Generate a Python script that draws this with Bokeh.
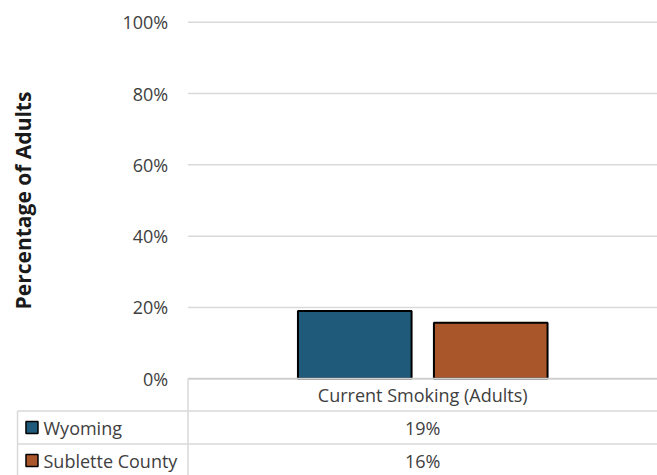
import numpy as np
from bokeh.plotting import figure
from bokeh.models import Range1d, ColumnDataSource
from bokeh.transform import dodge
from bokeh.core.properties import value
from bokeh.embed import file_html
from bokeh.resources import INLINE

# ---- data ----
categories = ["Current Smoking (Adults)"]
series_names = ["Wyoming", "Sublette County"]
wyoming = [19.0]
sublette = [15.7]
y_ticks = [0, 20, 40, 60, 80, 100]
y_title = "Percentage of Adults"

# ---- style / layout constants ----
colors = ["#1f5a7a", "#a8562a"]
FONT = "Open Sans"
TXT = "#404040"
GRID = "#d9d9d9"
HEADER_H = 9.03      # header row height (y units)
ROW_H = 9.254        # table row height (y units)
TABLE_LEFT = -0.3631  # left edge of table (x units, plot area = 0..1)

ncat = len(categories)
cat_x = list(np.arange(ncat) + 0.5)

p = figure(width=657, height=475,
           x_range=Range1d(-0.39936, ncat * 1.0),
           y_range=Range1d(-27.117, 106.085),
           x_axis_location=None, y_axis_location=None,
           output_backend="svg", toolbar_location=None,
           min_border_left=0, min_border_right=0,
           min_border_top=0, min_border_bottom=0,
           outline_line_color=None)
p.grid.visible = False

# gridlines
grid_y = [t for t in y_ticks if t != 0]
p.segment(x0=[0] * len(grid_y), y0=grid_y, x1=[ncat] * len(grid_y), y1=grid_y,
          line_color=GRID, line_width=1.5)

# bars
src = ColumnDataSource(dict(x=cat_x, wy=wyoming, su=sublette, cat=categories))
p.vbar(x=dodge("x", -0.1448, range=p.x_range), top="wy", width=0.242, source=src,
       fill_color=colors[0], line_color="black", line_width=2)
p.vbar(x=dodge("x", 0.1448, range=p.x_range), top="su", width=0.242, source=src,
       fill_color=colors[1], line_color="black", line_width=2)

# baseline (top of header row)
p.segment(x0=[0], y0=[0], x1=[ncat], y1=[0], line_color="#cfcfcf", line_width=2)

# y tick labels
tsrc = ColumnDataSource(dict(y=y_ticks, lab=[f"{t}%" for t in y_ticks]))
p.text(x=-0.0422, y="y", text="lab", source=tsrc, text_align="right", text_baseline="middle",
       text_font=value(FONT), text_font_size="18px", text_color=TXT)

# y title
p.text(x=[-0.3504], y=[50], text=[y_title], angle=np.pi / 2,
       text_align="center", text_baseline="middle",
       text_font=value(FONT), text_font_size="21px", text_font_style="bold",
       text_color="#1a1a1a")

# ---- data table ----
nrows = len(series_names)
row_lines = [-HEADER_H - i * ROW_H for i in range(nrows + 1)]
p.segment(x0=[TABLE_LEFT] * len(row_lines), y0=row_lines,
          x1=[ncat] * len(row_lines), y1=row_lines,
          line_color=GRID, line_width=1.5)
bottom = -HEADER_H - nrows * ROW_H
p.segment(x0=[0, TABLE_LEFT], y0=[0, -HEADER_H], x1=[0, TABLE_LEFT], y1=[bottom, bottom],
          line_color=GRID, line_width=1.5)

# header: category names
p.text(x="x", y=-HEADER_H / 2, text="cat", source=src, text_align="center",
       text_baseline="middle", text_font=value(FONT), text_font_size="18px", text_color=TXT)

row_c = [-HEADER_H - (i + 0.5) * ROW_H for i in range(nrows)]
vals = [wyoming[0], sublette[0]]
rsrc = ColumnDataSource(dict(
    y=row_c, name=series_names, color=colors,
    val=[f"{round(v)}%" for v in vals],
    xv=[cat_x[0]] * nrows))

p.rect(x=-0.3323, y="y", width=12, height=12, width_units="screen", height_units="screen",
       fill_color="color", line_color="black", line_width=1.5, source=rsrc)
p.text(x=-0.3078, y="y", text="name", source=rsrc, text_align="left", text_baseline="middle",
       text_font=value(FONT), text_font_size="18px", text_color=TXT)
p.text(x="xv", y="y", text="val", source=rsrc, text_align="center", text_baseline="middle",
       text_font=value(FONT), text_font_size="18px", text_color=TXT)

open("out.html", "w").write(file_html(p, INLINE))
